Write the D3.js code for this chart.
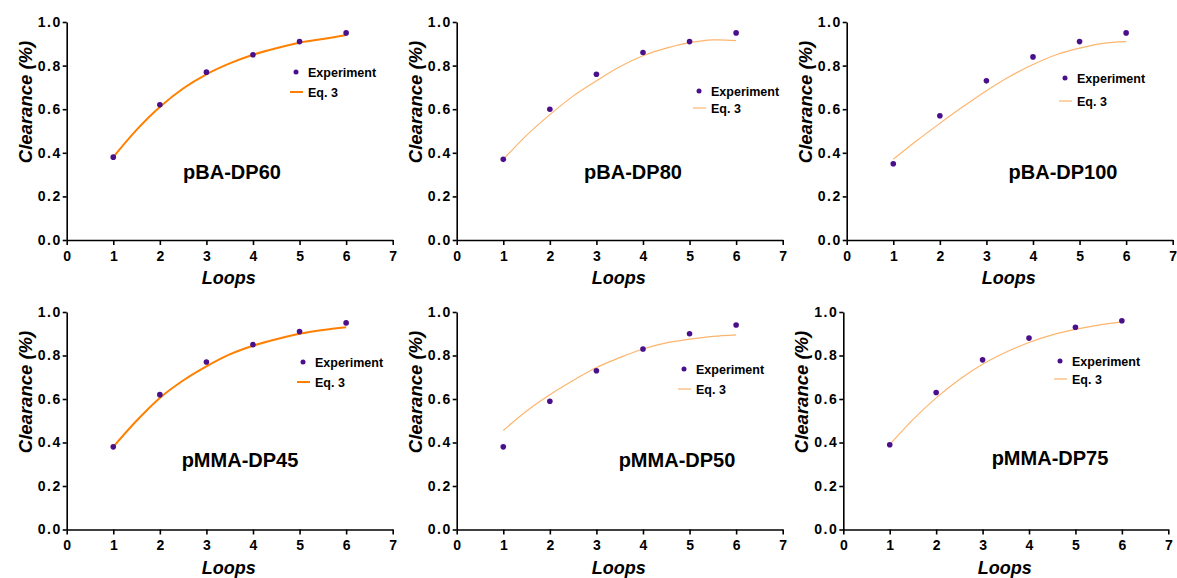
<!DOCTYPE html>
<html>
<head>
<meta charset="utf-8">
<script src="https://cdn.jsdelivr.net/npm/d3@7"></script>
<style>
  body { margin: 0; background: #fff; }
  svg text { font-family: "Liberation Sans", Arial, sans-serif; font-weight: bold; fill: #000; }
</style>
</head>
<body>
<svg id="chart" width="1177" height="578"></svg>
<script>
// data
var loops = [1, 2, 3, 4, 5, 6];
var xTicks = [0, 1, 2, 3, 4, 5, 6, 7];
var yTicks = [0, 0.2, 0.4, 0.6, 0.8, 1.0];
var names = ["pBA-DP60", "pBA-DP80", "pBA-DP100", "pMMA-DP45", "pMMA-DP50", "pMMA-DP75"];

var expDP60  = [0.38, 0.62, 0.77, 0.85, 0.91, 0.95];
var expDP80  = [0.37, 0.60, 0.76, 0.86, 0.91, 0.95];
var expDP100 = [0.35, 0.57, 0.73, 0.84, 0.91, 0.95];
var expDP45  = [0.38, 0.62, 0.77, 0.85, 0.91, 0.95];
var expDP50  = [0.38, 0.59, 0.73, 0.83, 0.90, 0.94];
var expDP75  = [0.39, 0.63, 0.78, 0.88, 0.93, 0.96];

// Eq. 3 curve, read at every half loop
var fitLoops = [1, 1.5, 2, 2.5, 3, 3.5, 4, 4.5, 5, 5.5, 6];
var fitDP60  = [0.38, 0.505, 0.61, 0.695, 0.76, 0.81, 0.85, 0.88, 0.905, 0.922, 0.94];
var fitDP80  = [0.37, 0.48, 0.575, 0.66, 0.73, 0.795, 0.845, 0.88, 0.905, 0.918, 0.915];
var fitDP100 = [0.37, 0.455, 0.535, 0.612, 0.685, 0.75, 0.805, 0.85, 0.88, 0.902, 0.91];
var fitDP45  = [0.38, 0.50, 0.605, 0.685, 0.75, 0.805, 0.845, 0.875, 0.90, 0.917, 0.93];
var fitDP50  = [0.455, 0.545, 0.62, 0.685, 0.745, 0.79, 0.83, 0.858, 0.875, 0.888, 0.895];
var fitDP75  = [0.39, 0.505, 0.605, 0.69, 0.76, 0.815, 0.86, 0.895, 0.92, 0.94, 0.955];

var exps = [expDP60, expDP80, expDP100, expDP45, expDP50, expDP75];
var fits = [fitDP60, fitDP80, fitDP100, fitDP45, fitDP50, fitDP75];

// layout of the six panels
var panels = [
  {x0: 66.7,  x1: 392.7,  y0: 240, y1: 22,  thick: true,  leg: [296, 72, 92],  title: [232, 179]},
  {x0: 456.7, x1: 782.7,  y0: 240, y1: 22,  thick: false, leg: [699, 91, 108], title: [633, 179]},
  {x0: 846.7, x1: 1172.7, y0: 240, y1: 22,  thick: false, leg: [1065, 78, 101], title: [1063, 179]},
  {x0: 66.7,  x1: 392.7,  y0: 529.5, y1: 312, thick: true,  leg: [303, 362, 382], title: [240, 467]},
  {x0: 456.7, x1: 782.7,  y0: 529.5, y1: 312, thick: false, leg: [684, 369, 389], title: [677, 467]},
  {x0: 843.3, x1: 1168.3, y0: 529.5, y1: 312, thick: false, leg: [1060, 361, 379], title: [1050, 465]}
];

var svg = d3.select("#chart");

panels.forEach(function(p, i) {
  var x = d3.scaleLinear().domain([0, 7]).range([p.x0, p.x1]);
  var y = d3.scaleLinear().domain([0, 1]).range([p.y0, p.y1]);
  var g = svg.append("g");

  var xa = g.append("g")
    .attr("transform", "translate(0," + p.y0 + ")")
    .call(d3.axisBottom(x).tickValues(xTicks).tickFormat(d3.format("d")).tickSize(5).tickSizeOuter(0));
  var ya = g.append("g")
    .attr("transform", "translate(" + p.x0 + ",0)")
    .call(d3.axisLeft(y).tickValues(yTicks).tickFormat(d3.format(".1f")).tickSize(4).tickSizeOuter(0));
  [xa, ya].forEach(function(a) {
    a.select(".domain").attr("stroke", "#000").attr("stroke-width", 1.6);
    a.selectAll(".tick line").attr("stroke", "#000").attr("stroke-width", 1.6);
    a.selectAll(".tick text").attr("font-size", 14).attr("font-family", null).attr("font-weight", null);
  });
  xa.selectAll(".tick text").attr("dy", "0.9em");
  ya.selectAll(".tick text").attr("letter-spacing", "1.5px").attr("x", -5);

  // axis titles
  g.append("text")
    .attr("x", (p.x0 + p.x1) / 2 - 1).attr("y", p.y0 + 44)
    .attr("text-anchor", "middle").attr("font-size", 18).attr("font-style", "italic")
    .text("Loops");
  g.append("text")
    .attr("transform", "translate(" + (p.x0 - 35) + "," + (p.y1 + 80) + ") rotate(-90)")
    .attr("text-anchor", "middle").attr("font-size", 18.5).attr("font-style", "italic")
    .text("Clearance (%)");

  // fitted curve
  var line = d3.line()
    .x(function(d, k) { return x(fitLoops[k]); })
    .y(function(d) { return y(d); })
    .curve(d3.curveCatmullRom);
  g.append("path")
    .attr("d", line(fits[i]))
    .attr("fill", "none")
    .attr("stroke", p.thick ? "#ff8000" : "#fdb56e")
    .attr("stroke-width", p.thick ? 2 : 1.2);

  // experiment points
  g.selectAll("circle.pt")
    .data(exps[i])
    .enter().append("circle")
    .attr("class", "pt")
    .attr("cx", function(d, k) { return x(loops[k]); })
    .attr("cy", function(d) { return y(d); })
    .attr("r", 2.8)
    .attr("fill", "#4a0f8a");

  // legend
  var lx = p.leg[0], ly1 = p.leg[1], ly2 = p.leg[2];
  g.append("circle").attr("cx", lx).attr("cy", ly1).attr("r", 2.5).attr("fill", "#4a0f8a");
  g.append("text").attr("x", lx + 12).attr("y", ly1 + 4.5).attr("font-size", 12.5).text("Experiment");
  g.append("line")
    .attr("x1", lx - 6).attr("x2", lx + 7).attr("y1", ly2).attr("y2", ly2)
    .attr("stroke", p.thick ? "#ff8000" : "#fdb56e")
    .attr("stroke-width", p.thick ? 2 : 1.2);
  g.append("text").attr("x", lx + 12).attr("y", ly2 + 4.5).attr("font-size", 12.5).text("Eq. 3");

  // panel name
  g.append("text")
    .attr("x", p.title[0]).attr("y", p.title[1])
    .attr("text-anchor", "middle").attr("font-size", 20)
    .text(names[i]);
});
</script>
</body>
</html>
